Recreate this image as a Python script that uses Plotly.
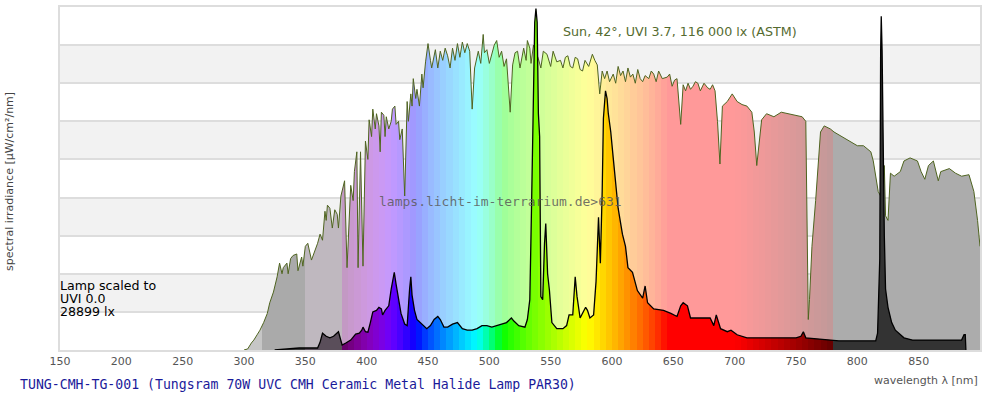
import plotly.graph_objects as go

# ---------------- data ----------------
# Sun spectrum (ASTM, 42°) – wavelength [nm] and spectral irradiance [µW/cm²/nm]
sun_nm = [300, 303, 306, 308, 311, 313, 316, 319, 321, 324, 327, 329, 331, 332, 335, 336, 338, 340,
          343, 344, 347, 348, 350, 352, 355, 358, 360, 362, 364, 366, 367, 368, 370, 372, 374, 376,
          377, 379, 382, 384, 387, 389, 390, 392, 393, 395, 397, 399, 401, 402, 404, 405, 407, 408,
          410, 411, 412, 414, 415, 416, 418, 420, 421, 423, 424, 426, 427, 429, 431, 433, 434, 436,
          437, 438, 440, 441, 443, 445, 446, 448, 450, 452, 453, 456, 458, 460, 462, 464, 466, 468,
          470, 472, 474, 476, 478, 480, 482, 484, 486, 488, 490, 491, 493, 495, 496, 498, 500, 502,
          504, 506, 508, 510, 512, 514, 517, 519, 521, 523, 525, 528, 530, 531, 533, 534, 536, 540,
          542, 544, 547, 550, 552, 555, 558, 560, 562, 564, 566, 568, 570, 572, 574, 576, 578, 581,
          584, 586, 588, 590, 592, 594, 596, 598, 601, 603, 605, 607, 609, 611, 613, 615, 617, 619,
          621, 623, 625, 627, 630, 632, 634, 636, 638, 641, 645, 647, 649, 651, 653, 656, 658, 660,
          662, 664, 666, 668, 670, 672, 675, 678, 680, 682, 684, 686, 688, 690, 694, 698, 702, 706,
          710, 714, 716, 718, 720, 722, 726, 732, 738, 744, 750, 755, 758, 760, 761, 763, 766, 770,
          773, 778, 781, 789, 795, 800, 805, 808, 811, 813, 815, 817, 819, 821, 822, 823, 825, 827,
          830, 835, 838, 843, 849, 852, 855, 858, 862, 866, 868, 875, 880, 885, 891, 895, 898, 900]
sun_val = [0, 0.7, 4.6, 6.5, 10.4, 13, 18, 24, 31, 38, 48, 57, 50, 54, 57, 50, 60, 62,
           63, 52, 61, 55, 68, 70, 59, 65, 70, 76, 72, 91, 85, 95, 93, 80, 92, 89,
           80, 101, 111, 54, 108, 98, 117, 130, 54, 130, 55, 137, 125, 151, 140, 158, 145, 155,
           147, 130, 156, 154, 140, 153, 145, 150, 158, 160, 148, 150, 138, 145, 101, 163, 150, 168,
           160, 178, 165, 171, 160, 181, 172, 189, 201, 190, 185, 197, 185, 196, 190, 198, 193, 185,
           198, 190, 201, 192, 202, 195, 201, 196, 158, 185, 192, 196, 188, 207, 195, 197, 188, 194,
           200, 203, 192, 196, 186, 191, 156, 187, 195, 196, 185, 198, 190, 203, 198, 188, 200, 191,
           185, 196, 194, 186, 196, 189, 190, 185, 192, 193, 186, 185, 192, 191, 184, 183, 190, 186,
           194, 190, 187, 168, 183, 178, 183, 176, 181, 175, 186, 180, 183, 176, 185, 179, 181, 175,
           184, 178, 176, 180, 178, 183, 181, 176, 183, 178, 179, 181, 173, 177, 178, 148, 174, 170,
           175, 171, 173, 176, 175, 170, 175, 172, 171, 174, 170, 150, 122, 160, 163, 168, 163, 161,
           160, 156, 143, 121, 137, 151, 155, 153, 156, 155, 154, 153, 150, 20, 33, 68, 98, 143,
           147, 145, 143, 139, 136, 134, 134, 132, 130, 124, 114, 104, 101, 110, 121, 88, 85, 116,
           114, 117, 124, 126, 124, 117, 112, 121, 124, 111, 117, 119, 116, 114, 115, 104, 85, 68]

# Lamp spectrum (Tungsram 70W UVC CMH), scaled
lamp_nm = [325, 345, 360, 362, 364, 367, 370, 373, 377, 380, 383, 387, 391, 394, 396, 397, 399, 401,
           403, 405, 408, 410, 412, 413, 415, 418, 420, 422.5, 424, 426, 428, 431, 433, 435, 436, 437,
           439, 441, 445, 449, 452, 455, 458, 460, 463, 466, 470, 474, 478, 482, 486, 490, 494, 498,
           502, 506, 510, 514, 518, 520, 524, 529, 531, 533, 534.5, 535.5, 537, 538, 539, 540, 541,
           542, 543.5, 545, 546, 547.5, 549, 551, 555, 560, 563, 565, 568, 570, 571.5, 574, 577,
           578.5, 580, 582, 585, 587, 589, 590.5, 592, 593, 594.7, 596, 597, 599, 601, 603, 605,
           608.5, 611, 613, 616.7, 620.7, 623, 625, 627, 629, 634, 642, 648, 653, 656, 658, 661.5,
           664, 670, 680, 683, 685, 688.5, 694, 697, 702, 710, 730, 750, 754, 756, 758, 770, 785,
           800, 815, 816.5, 817.5, 818.3, 819, 819.5, 820.2, 821, 822, 823, 825, 828, 831, 838, 845,
           885, 887, 888, 888.5]
lamp_val = [0, 1.3, 1.3, 5, 11, 9, 8, 9, 12, 3.3, 4.6, 6.5, 10.4, 11, 13, 15, 12, 11.7,
            18, 25, 26, 28, 27, 23, 26, 29, 40, 51, 43, 33, 24, 17, 16, 40, 48, 36,
            26, 20, 17, 14, 16, 20, 22, 20, 15, 15, 17, 18, 14, 13, 13, 14, 16, 16,
            15, 16, 17, 18, 21, 19, 16, 15, 20, 33, 98, 155, 215, 224, 215, 155, 140,
            35, 33, 70, 83, 50, 39, 18, 14, 14, 16, 23, 23, 48, 35, 21, 26,
            28, 26, 21, 23, 45, 87, 57, 104, 152, 170, 165, 155, 143, 126, 111, 93,
            76, 68, 54, 51, 39, 36, 34, 42, 31, 27, 26, 24, 22, 29, 31, 29,
            21, 21, 21, 16, 23, 14, 12, 13, 10, 8, 8, 8, 9, 12, 8, 7, 6,
            6, 6, 11, 33, 60, 196, 219, 196, 130, 75, 40, 28, 18, 13, 8, 6.5,
            6.5, 10, 10, 0]

x_ticks = [150, 200, 250, 300, 350, 400, 450, 500, 550, 600, 650, 700, 750, 800, 850]

title_text = "TUNG-CMH-TG-001 (Tungsram 70W UVC CMH Ceramic Metal Halide Lamp PAR30)"
sun_label = "Sun, 42°, UVI 3.7, 116 000 lx (ASTM)"
lamp_label = ["Lamp scaled to", "UVI 0.0", "28899 lx"]
watermark = "lamps.licht-im-terrarium.de>631"

# ---------------- styling helpers ----------------
X0, X1 = 150, 900
Y_MAX = 225


def bruton(w):
    if 380 <= w < 440:
        r, g, b = -(w - 440) / 60, 0.0, 1.0
    elif 440 <= w < 490:
        r, g, b = 0.0, (w - 440) / 50, 1.0
    elif 490 <= w < 510:
        r, g, b = 0.0, 1.0, -(w - 510) / 20
    elif 510 <= w < 580:
        r, g, b = (w - 510) / 70, 1.0, 0.0
    elif 580 <= w < 645:
        r, g, b = 1.0, -(w - 645) / 65, 0.0
    else:
        r, g, b = 1.0, 0.0, 0.0
    if w < 420:
        f = 0.3 + 0.7 * (w - 380) / 40
    elif w > 700:
        f = 0.3 + 0.7 * (780 - w) / 80
    else:
        f = 1.0
    return tuple(0 if c == 0 else 255 * (c * f) ** 0.8 for c in (r, g, b))


def lamp_color(w):
    if w < 315:
        return (108, 108, 108)
    if w < 350:
        return (60, 60, 60)
    if w < 380:
        return (90, 78, 90)
    if w >= 780:
        return (51, 51, 51)
    return bruton(w)


def sun_color(w):
    if w < 315:
        return (198, 198, 198)
    if w < 350:
        return (170, 170, 170)
    if w < 380:
        return (191, 184, 191)
    if w >= 780:
        return (172, 172, 172)
    r, g, b = bruton(w)
    return tuple(0.4 * c + 0.6 * 255 for c in (r, g, b))


def stepped_scale(colfn, step=5):
    scale = []
    w = X0
    eps = 1e-6
    while w < X1:
        c = colfn(w + step / 2)
        col = "rgb(%d,%d,%d)" % tuple(round(v) for v in c)
        a = (w - X0) / (X1 - X0)
        b = min(1.0, (w + step - X0) / (X1 - X0))
        scale.append([a + (eps if scale else 0), col])
        scale.append([b, col])
        w += step
    return scale


fig = go.Figure()

fig.add_trace(go.Scatter(
    x=sun_nm, y=sun_val, mode="lines", fill="tozeroy",
    line=dict(color="#4f6420", width=1),
    fillgradient=dict(type="horizontal", colorscale=stepped_scale(sun_color), start=X0, stop=X1),
    hoverinfo="skip", showlegend=False))

fig.add_trace(go.Scatter(
    x=lamp_nm, y=lamp_val, mode="lines", fill="tozeroy",
    line=dict(color="#000000", width=1.3),
    fillgradient=dict(type="horizontal", colorscale=stepped_scale(lamp_color), start=X0, stop=X1),
    hoverinfo="skip", showlegend=False))

# alternating horizontal bands
shapes = []
for k in range(9):
    if k % 2 == 1:
        shapes.append(dict(type="rect", xref="paper", yref="y", x0=0, x1=1,
                           y0=k * 25, y1=(k + 1) * 25, fillcolor="#f2f2f2",
                           line=dict(width=0), layer="below"))

annotations = [
    dict(text=sun_label, xref="paper", yref="paper", x=0.5445, y=0.9275, xanchor="left",
         yanchor="middle", showarrow=False, font=dict(family="DejaVu Sans", size=12.7, color="#556b2f")),
    dict(text=watermark, xref="paper", yref="paper", x=0.4793, y=0.4319, xanchor="center",
         yanchor="middle", showarrow=False,
         font=dict(family="DejaVu Sans Mono", size=13, color="rgba(90,90,90,0.85)")),
    dict(text=title_text, xref="paper", yref="paper", x=-0.0457, y=-0.1014, xanchor="left",
         yanchor="middle", showarrow=False, font=dict(family="DejaVu Sans Mono", size=13.2, color="#1a1a9a")),
    dict(text="wavelength λ [nm]", xref="paper", yref="paper", x=1.0, y=-0.0899, xanchor="right",
         yanchor="middle", showarrow=False, font=dict(family="DejaVu Sans", size=11, color="#555555")),
    dict(text="spectral irradiance [µW/cm²/nm]", xref="paper", yref="paper", x=-0.0543, y=0.49,
         xanchor="center", yanchor="middle", textangle=-90, showarrow=False,
         font=dict(family="DejaVu Sans", size=11, color="#444444")),
]
for i, (t, ypx) in enumerate(zip(lamp_label, [285, 298, 311])):
    annotations.append(dict(text=t, xref="paper", yref="paper", x=-0.0022, y=(350 - ypx) / 345,
                            xanchor="left", yanchor="middle", showarrow=False,
                            font=dict(family="DejaVu Sans", size=12.6, color="#000000")))

fig.update_layout(
    width=1000, height=400,
    margin=dict(l=60, r=20, t=5, b=50),
    paper_bgcolor="white", plot_bgcolor="white",
    shapes=shapes, annotations=annotations,
    xaxis=dict(range=[X0, X1], tickvals=x_ticks, showgrid=False, zeroline=False,
               showline=True, linecolor="#dddddd", linewidth=1.5, mirror=True, ticks="",
               tickfont=dict(family="DejaVu Sans", size=11, color="#555555")),
    yaxis=dict(range=[0, Y_MAX], dtick=25, showticklabels=False, showgrid=True,
               gridcolor="#dddddd", gridwidth=1.5, zeroline=False, showline=True,
               linecolor="#dddddd", linewidth=1.5, mirror=True, ticks=""),
)

fig.write_html("out.html")
